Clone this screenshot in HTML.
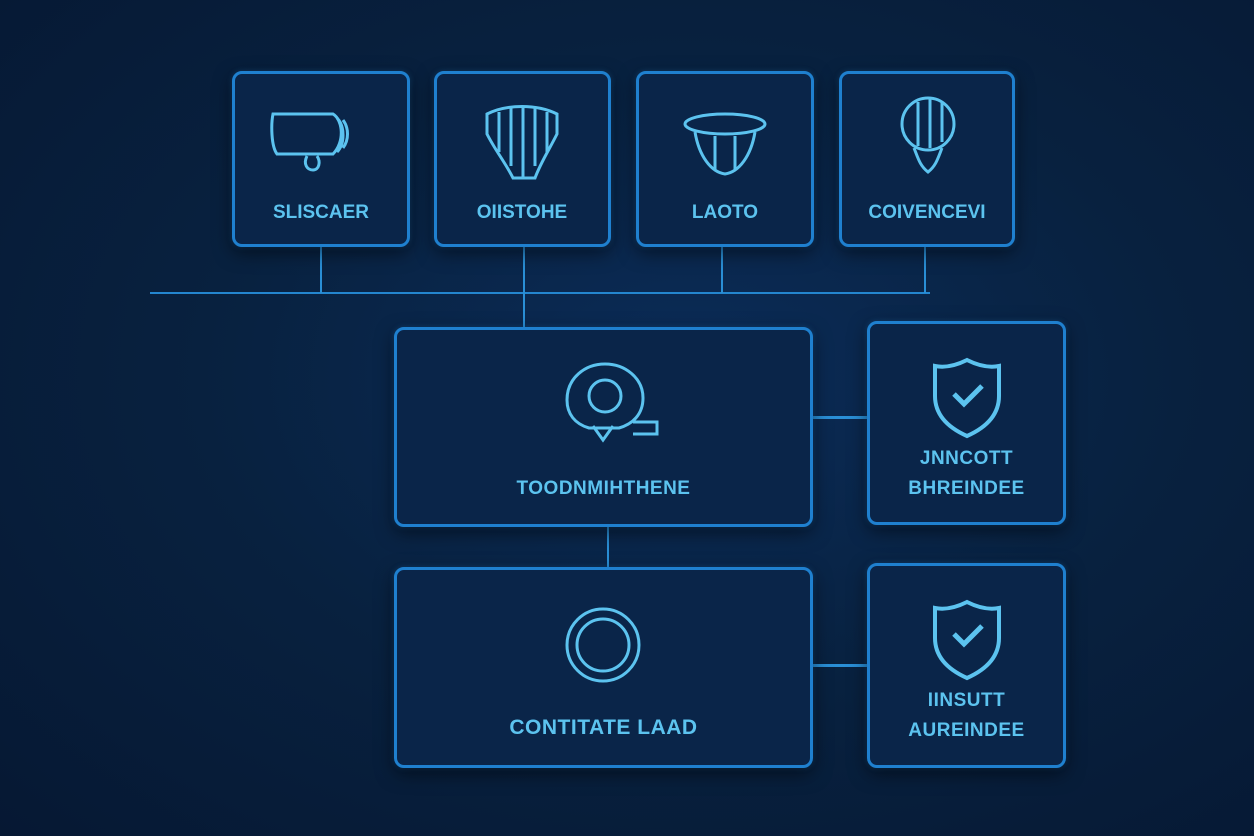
<!DOCTYPE html>
<html><head><meta charset="utf-8"><style>
body{margin:0;width:1254px;height:836px;overflow:hidden;background:radial-gradient(ellipse at 55% 45%,#0b2c58 0%,#08213f 50%,#061833 100%);font-family:"Liberation Sans",sans-serif;position:relative}
.b{position:absolute;box-sizing:border-box;border:3px solid #1f80cf;border-radius:10px;background:#0a2549;box-shadow:0 6px 18px rgba(0,0,0,.5),0 0 6px rgba(40,140,220,.3)}
.t{position:absolute;left:0;right:0;text-align:center;color:#5cc3ef;font-weight:bold;font-size:19px;letter-spacing:.5px}
.l{position:absolute;background:#2a8fd6}
svg{position:absolute}
</style></head><body>
<div class="l" style="left:150px;top:292px;width:780px;height:2px;background:#2486cf"></div>
<div class="l" style="left:320px;top:246px;width:2px;height:47px"></div>
<div class="l" style="left:523px;top:246px;width:2px;height:82px"></div>
<div class="l" style="left:721px;top:246px;width:2px;height:47px"></div>
<div class="l" style="left:924px;top:246px;width:2px;height:47px"></div>
<div class="l" style="left:607px;top:526px;width:2px;height:42px"></div>
<div class="l" style="left:812px;top:416px;width:56px;height:3px"></div>
<div class="l" style="left:812px;top:664px;width:56px;height:3px"></div>

<div class="b" style="left:232px;top:71px;width:178px;height:176px">
<svg width="172" height="170" viewBox="0 0 172 170"><g fill="none" stroke="#5cc3ef" stroke-width="3"><path d="M38 40h60c10 6 12 28 0 40H42c-6-8-6-30-4-40z"/><path d="M102 44c8 8 8 26 0 34M108 46c6 8 6 20 0 28"/><path d="M72 82c-4 8 0 14 6 14s8-8 4-14"/></g><text x="86" y="144" text-anchor="middle" fill="#5cc3ef" font-weight="bold" font-size="19" font-family="Liberation Sans">SLISCAER</text></svg></div>
<div class="b" style="left:434px;top:71px;width:177px;height:176px">
<svg width="171" height="170" viewBox="0 0 171 170"><g fill="none" stroke="#5cc3ef" stroke-width="3"><path d="M50 40c20-10 50-10 70 0v20c-8 16-16 28-22 44H76C68 88 58 76 50 60z"/><path d="M62 38v40M74 34v58M86 32v72M98 34v58M110 38v40"/></g><text x="85" y="144" text-anchor="middle" fill="#5cc3ef" font-weight="bold" font-size="19" font-family="Liberation Sans">OIISTOHE</text></svg></div>
<div class="b" style="left:636px;top:71px;width:178px;height:176px">
<svg width="172" height="170" viewBox="0 0 172 170"><g fill="none" stroke="#5cc3ef" stroke-width="3"><ellipse cx="86" cy="50" rx="40" ry="10"/><path d="M56 58c4 24 16 40 30 42 14-2 26-18 30-42"/><path d="M76 62v34M96 62v34"/></g><text x="86" y="144" text-anchor="middle" fill="#5cc3ef" font-weight="bold" font-size="19" font-family="Liberation Sans">LAOTO</text></svg></div>
<div class="b" style="left:839px;top:71px;width:176px;height:176px">
<svg width="170" height="170" viewBox="0 0 170 170"><g fill="none" stroke="#5cc3ef" stroke-width="3"><circle cx="86" cy="50" r="26"/><path d="M72 74c4 10 6 18 14 24 8-6 10-14 14-24"/><path d="M76 28v44M88 24v50M100 28v40"/></g><text x="85" y="144" text-anchor="middle" fill="#5cc3ef" font-weight="bold" font-size="19" font-family="Liberation Sans">COIVENCEVI</text></svg></div>

<div class="b" style="left:394px;top:327px;width:419px;height:200px">
<svg width="413" height="194" viewBox="0 0 413 194"><g fill="none" stroke="#5cc3ef" stroke-width="3"><path d="M170 70c0-22 18-36 38-36s38 14 38 34c0 16-10 26-24 30h-30c-14-4-22-14-22-28z"/><circle cx="208" cy="66" r="16"/><path d="M196 96l10 14 10-14M236 92h24v12h-24"/></g></svg>
<div class="t" style="top:148px">TOODNMIHTHENE</div></div>
<div class="b" style="left:867px;top:321px;width:199px;height:204px">
<svg width="193" height="198" viewBox="0 0 193 198"><path d="M97 36c12 6 22 8 32 6v30c0 20-14 32-32 40-18-8-32-20-32-40V42c10 2 20 0 32-6z" fill="none" stroke="#5cc3ef" stroke-width="4"/><path d="M84 70l10 10 18-18" fill="none" stroke="#5cc3ef" stroke-width="5"/></svg>
<div class="t" style="top:124px">JNNCOTT</div><div class="t" style="top:154px">BHREINDEE</div></div>

<div class="b" style="left:394px;top:567px;width:419px;height:201px">
<svg width="413" height="195" viewBox="0 0 413 195"><circle cx="206" cy="75" r="36" fill="none" stroke="#5cc3ef" stroke-width="3"/><circle cx="206" cy="75" r="26" fill="none" stroke="#5cc3ef" stroke-width="3"/></svg>
<div class="t" style="top:146px;font-size:21px">CONTITATE LAAD</div></div>
<div class="b" style="left:867px;top:563px;width:199px;height:205px">
<svg width="193" height="199" viewBox="0 0 193 199"><path d="M97 36c12 6 22 8 32 6v30c0 20-14 32-32 40-18-8-32-20-32-40V42c10 2 20 0 32-6z" fill="none" stroke="#5cc3ef" stroke-width="4"/><path d="M84 68l10 10 18-18" fill="none" stroke="#5cc3ef" stroke-width="5"/></svg>
<div class="t" style="top:124px">IINSUTT</div><div class="t" style="top:154px">AUREINDEE</div></div>
</body></html>
